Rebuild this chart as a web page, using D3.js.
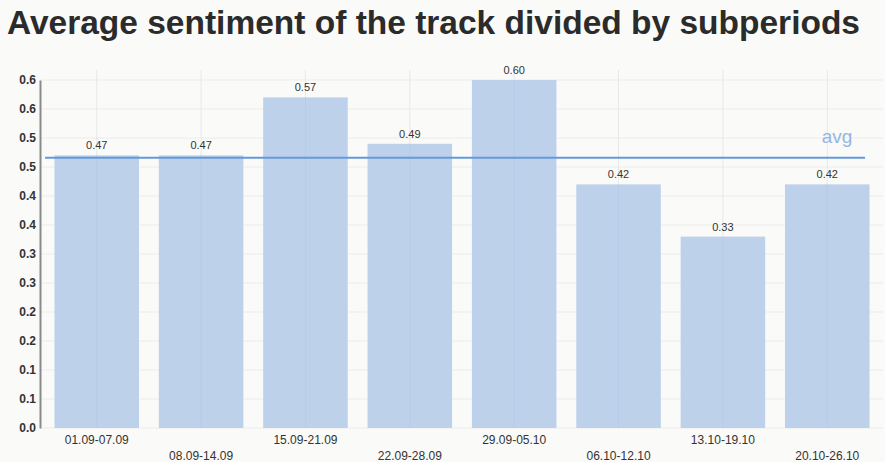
<!DOCTYPE html>
<html>
<head>
<meta charset="utf-8">
<script src="https://cdn.jsdelivr.net/npm/d3@7"></script>
<style>
  html, body { margin: 0; padding: 0; background: #fafaf8; }
  svg { display: block; }
</style>
</head>
<body>
<svg id="chart" width="885" height="462"></svg>
<script>
// Weekly subperiods and their average sentiment
const periods = ["01.09-07.09", "08.09-14.09", "15.09-21.09", "22.09-28.09",
                 "29.09-05.10", "06.10-12.10", "13.10-19.10", "20.10-26.10"];
const sentiment = [0.47, 0.47, 0.57, 0.49, 0.60, 0.42, 0.33, 0.42];
const avgSentiment = 0.466;

// Y ticks every 0.05, labelled with one decimal
const yTicks = [0, 0.05, 0.10, 0.15, 0.20, 0.25, 0.30, 0.35, 0.40, 0.45, 0.50, 0.55, 0.60];
const yTickLabels = ["0.0", "0.1", "0.1", "0.2", "0.2", "0.3", "0.3", "0.4", "0.4", "0.5", "0.5", "0.6", "0.6"];

const svg = d3.select("#chart");
const plot = { left: 41, right: 881, top: 80, bottom: 428 };

const x = d3.scaleBand()
  .domain(periods)
  .range([43, plot.right])
  .paddingInner(0.19)
  .paddingOuter(0.11);

const y = d3.scaleLinear()
  .domain([0, 0.6])
  .range([plot.bottom, plot.top]);

// Title
svg.append("text")
  .attr("x", 7)
  .attr("y", 34)
  .attr("font-family", "Liberation Sans, Arial, sans-serif")
  .attr("font-weight", "bold")
  .attr("font-size", 33)
  .attr("fill", "#2b2b2b")
  .attr("textLength", 853)
  .attr("lengthAdjust", "spacingAndGlyphs")
  .text("Average sentiment of the track divided by subperiods");

// Horizontal grid
svg.append("g")
  .selectAll("line")
  .data(yTicks)
  .join("line")
  .attr("x1", plot.left)
  .attr("x2", 883)
  .attr("y1", d => y(d))
  .attr("y2", d => y(d))
  .attr("stroke", "#ececec")
  .attr("stroke-width", 1);

// Vertical grid through bar centres
svg.append("g")
  .selectAll("line")
  .data(periods)
  .join("line")
  .attr("x1", d => x(d) + x.bandwidth() / 2)
  .attr("x2", d => x(d) + x.bandwidth() / 2)
  .attr("y1", 70)
  .attr("y2", plot.bottom)
  .attr("stroke", "#e8e8ec")
  .attr("stroke-width", 1);

// Bars
svg.append("g")
  .selectAll("rect")
  .data(periods)
  .join("rect")
  .attr("x", d => x(d))
  .attr("width", x.bandwidth())
  .attr("y", (d, i) => y(sentiment[i]))
  .attr("height", (d, i) => y(0) - y(sentiment[i]))
  .attr("fill", "#bdd1eb");

// Faint centre lines inside bars
svg.append("g")
  .selectAll("line")
  .data(periods)
  .join("line")
  .attr("x1", d => x(d) + x.bandwidth() / 2)
  .attr("x2", d => x(d) + x.bandwidth() / 2)
  .attr("y1", (d, i) => y(sentiment[i]))
  .attr("y2", plot.bottom)
  .attr("stroke", "#b6cbe7")
  .attr("stroke-width", 1);

// Value labels
svg.append("g")
  .selectAll("text")
  .data(periods)
  .join("text")
  .attr("x", d => x(d) + x.bandwidth() / 2)
  .attr("y", (d, i) => y(sentiment[i]) - 6)
  .attr("text-anchor", "middle")
  .attr("font-family", "Liberation Sans, Arial, sans-serif")
  .attr("font-size", 11)
  .attr("fill", "#333")
  .text((d, i) => sentiment[i].toFixed(2));

// Average line
svg.append("line")
  .attr("x1", 45)
  .attr("x2", 865)
  .attr("y1", y(avgSentiment))
  .attr("y2", y(avgSentiment))
  .attr("stroke", "#6699d8")
  .attr("stroke-width", 2);

svg.append("text")
  .attr("x", 837)
  .attr("y", y(avgSentiment) - 15)
  .attr("text-anchor", "middle")
  .attr("font-family", "Liberation Sans, Arial, sans-serif")
  .attr("font-size", 19)
  .attr("fill", "#93b6e2")
  .text("avg");

// Y axis
const yAxis = d3.axisLeft(y)
  .tickValues(yTicks)
  .tickFormat((d, i) => yTickLabels[i])
  .tickSize(0)
  .tickPadding(4);

const gy = svg.append("g")
  .attr("transform", `translate(${plot.left - 1},0)`)
  .call(yAxis);
gy.select(".domain").attr("stroke", "#8a8a8a").attr("stroke-width", 2);
gy.selectAll("text")
  .attr("font-family", "Liberation Sans, Arial, sans-serif")
  .attr("font-weight", "bold")
  .attr("font-size", 12)
  .attr("fill", "#333");

// X labels, staggered on two rows
const xAxis = d3.axisBottom(x).tickSize(0).tickPadding(0);
const gx = svg.append("g")
  .attr("transform", `translate(0,${plot.bottom})`)
  .call(xAxis);
gx.select(".domain").remove();
gx.selectAll("text")
  .attr("font-family", "Liberation Sans, Arial, sans-serif")
  .attr("font-size", 12)
  .attr("fill", "#333")
  .attr("dy", null)
  .attr("y", (d, i) => i % 2 === 0 ? 16 : 32);
</script>
</body>
</html>
